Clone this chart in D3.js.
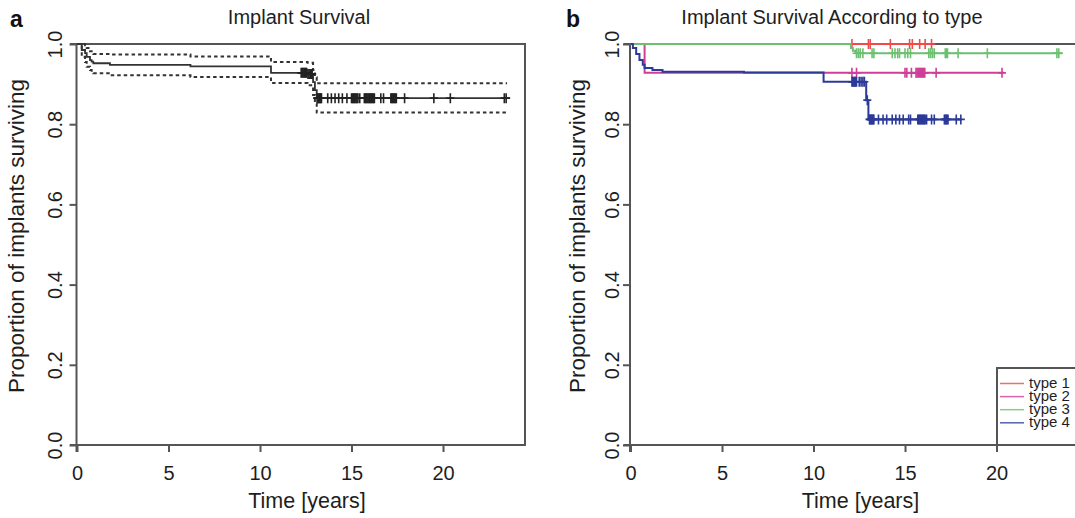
<!DOCTYPE html>
<html>
<head>
<meta charset="utf-8">
<script src="https://cdn.jsdelivr.net/npm/d3@7"></script>
<style>
  body { margin: 0; background: #fff; }
  svg { display: block; font-family: "Liberation Sans", Arial, Helvetica, sans-serif; }
</style>
</head>
<body>
<svg id="chart" width="1075" height="518"></svg>
<script>
// ---- Shared axis settings ----
const yTicks = [0, 0.2, 0.4, 0.6, 0.8, 1.0];
const xTicks = [0, 5, 10, 15, 20];
const xMax = 24.48;

// ---- Panel a: overall Kaplan-Meier estimate with 95% confidence limits ----
const allEventTimes = [0.26, 0.44, 0.53, 0.71, 0.80, 0.89, 1.8, 6.2, 10.6, 12.6, 12.9, 13.0, 13.1];
const allSurvival   = [0.985, 0.977, 0.968, 0.960, 0.956, 0.952, 0.948, 0.944, 0.928, 0.925, 0.905, 0.885, 0.865];
const allUpper      = [1.0, 0.997, 0.990, 0.982, 0.978, 0.975, 0.974, 0.969, 0.955, 0.953, 0.935, 0.917, 0.902];
const allLower      = [0.968, 0.955, 0.943, 0.935, 0.930, 0.927, 0.922, 0.918, 0.903, 0.897, 0.873, 0.851, 0.829];
const allCensorTimes = [12.25, 12.3, 12.35, 12.4, 12.45, 12.5, 12.55, 12.62, 12.68, 12.74, 12.8, 12.85,
  13.12, 13.16, 13.2, 13.24, 13.28, 13.32, 13.36, 13.7, 13.9, 14.1, 14.3, 14.5, 14.75,
  15.0, 15.05, 15.1, 15.15, 15.2, 15.25, 15.3, 15.35, 15.45,
  15.7, 15.75, 15.8, 15.85, 15.9, 15.95, 16.0, 16.05, 16.1, 16.15, 16.2, 16.25,
  16.6, 16.75, 17.15, 17.2, 17.25, 17.3, 17.35, 17.4, 17.45, 17.9, 19.5, 20.4, 23.35, 23.45];
const allEnd = 23.65;
const allBandEnd = 23.5;

// ---- Panel b: Kaplan-Meier estimates by implant type ----
const typeNames  = ["type 1", "type 2", "type 3", "type 4"];
const typeColors = ["#ee4b4b", "#cf3f98", "#6cc070", "#2c3a98"];

const type1EventTimes = [];
const type1Survival   = [];
const type1Censor     = [12.1, 13.0, 13.1, 14.2, 15.25, 15.4, 15.8, 16.1, 16.45];
const type1End        = 16.5;

const type2EventTimes = [0.77];
const type2Survival   = [0.928];
const type2Censor     = [12.1, 12.35, 15.0, 15.1, 15.35, 15.6, 15.66, 15.72, 15.78, 15.84, 15.9,
  15.96, 16.02, 16.08, 16.7, 20.3];
const type2End        = 20.4;

const type3EventTimes = [12.05, 12.15, 12.3];
const type3Survival   = [0.99, 0.983, 0.977];
const type3Censor     = [12.35, 12.45, 12.55, 12.7, 13.2, 13.3, 14.3, 14.45, 14.6, 14.7, 15.0,
  15.15, 15.3, 16.3, 16.4, 16.5, 16.6, 17.2, 17.26, 17.32, 17.9, 19.5, 23.3, 23.4];
const type3End        = 23.6;

const type4EventTimes = [0.13, 0.31, 0.49, 0.67, 0.77, 1.2, 1.75, 6.2, 10.55, 12.88, 13.0];
const type4Survival   = [0.99, 0.975, 0.96, 0.948, 0.94, 0.935, 0.931, 0.929, 0.906, 0.86, 0.812];
const type4Censor     = [12.1, 12.15, 12.2, 12.25, 12.3, 12.35, 12.5, 12.6, 12.7, 12.78, 12.94,
  13.06, 13.1, 13.14, 13.18, 13.22, 13.26, 13.3, 13.55, 13.8, 14.0, 14.3, 14.5, 14.7, 14.9,
  15.2, 15.3, 15.7, 15.75, 15.8, 15.85, 15.9, 15.95, 16.0, 16.05, 16.1, 16.18, 16.45, 16.6,
  17.15, 17.2, 17.25, 17.3, 17.35, 17.8, 18.05];
const type4End        = 18.1;

const typeSeries = [
  { times: type1EventTimes, surv: type1Survival, censor: type1Censor, end: type1End },
  { times: type2EventTimes, surv: type2Survival, censor: type2Censor, end: type2End },
  { times: type3EventTimes, surv: type3Survival, censor: type3Censor, end: type3End },
  { times: type4EventTimes, surv: type4Survival, censor: type4Censor, end: type4End }
];

// ---- Helpers ----
const svg = d3.select("#chart");
const axisColor = "#555";
const textColor = "#1e1e1e";

// Step-function points for a survival curve (starting at 1 at time 0)
function stepPoints(times, values, end) {
  const pts = [[0, 1]];
  times.forEach((t, i) => pts.push([t, values[i]]));
  pts.push([end, values.length ? values[values.length - 1] : 1]);
  return pts;
}
function survivalAt(times, values, t) {
  const i = d3.bisectRight(times, t) - 1;
  return i < 0 ? 1 : values[i];
}

function drawPanel(opts) {
  const x = d3.scaleLinear().domain([0, xMax]).range([opts.x0, opts.x0 + 448]);
  const y = d3.scaleLinear().domain([0, 1]).range([445, 44]);
  const g = svg.append("g");

  // frame: top, right and bottom sides
  const left = opts.x0 - 7, right = x(xMax);
  g.append("path")
    .attr("d", `M${left},${y(1)}H${right}V${y(0)}H${left}`)
    .attr("fill", "none").attr("stroke", axisColor).attr("stroke-width", 2);

  // y axis
  const ya = g.append("g")
    .attr("transform", `translate(${opts.x0 - 0.5},0)`)
    .call(d3.axisLeft(y).tickValues(yTicks).tickFormat(d3.format(".1f")).tickSize(7).tickSizeOuter(0));
  ya.select(".domain").attr("stroke", axisColor).attr("stroke-width", 2)
    .attr("d", `M0,${y(1)}V${y(0) + 7}`);
  ya.selectAll(".tick line").attr("stroke", axisColor).attr("stroke-width", 2);
  ya.selectAll(".tick text")
    .attr("transform", "rotate(-90)")
    .attr("x", 0).attr("y", -opts.yLabelGap).attr("dy", 0)
    .attr("text-anchor", "middle")
    .attr("font-size", 20).attr("fill", textColor);

  // x axis
  const xa = g.append("g")
    .attr("transform", `translate(0,${y(0)})`)
    .call(d3.axisBottom(x).tickValues(xTicks).tickFormat(d3.format("d")).tickSize(7).tickSizeOuter(0));
  xa.select(".domain").remove();
  xa.selectAll(".tick line").attr("stroke", axisColor).attr("stroke-width", 2);
  xa.selectAll(".tick text").attr("y", 35).attr("dy", 0)
    .attr("font-size", 20).attr("fill", textColor);

  // titles
  g.append("text").attr("x", opts.titleX).attr("y", 24)
    .attr("text-anchor", "middle").attr("font-size", 20).attr("fill", textColor)
    .text(opts.title);
  g.append("text").attr("x", opts.tagX).attr("y", 27)
    .attr("font-size", 23).attr("font-weight", "bold").attr("fill", "#111")
    .text(opts.tag);
  g.append("text").attr("x", (x(0) + right) / 2 + 6).attr("y", 508)
    .attr("text-anchor", "middle").attr("font-size", 21.5).attr("fill", textColor)
    .text("Time [years]");
  g.append("text")
    .attr("transform", `translate(${opts.yTitleX},${opts.yTitleY}) rotate(-90)`)
    .attr("text-anchor", "middle").attr("font-size", 22.5).attr("fill", textColor)
    .text("Proportion of implants surviving");

  return { g, x, y };
}

const stepLine = (x, y) => d3.line().x(d => x(d[0])).y(d => y(d[1])).curve(d3.curveStepAfter);

function drawCensor(g, x, y, times, values, censorTimes, color, width) {
  censorTimes.forEach(t => {
    const cx = x(t), cy = y(survivalAt(times, values, t));
    g.append("path")
      .attr("d", `M${cx},${cy - 5}V${cy + 5}M${cx - 4},${cy}H${cx + 4}`)
      .attr("stroke", color).attr("stroke-width", width).attr("fill", "none");
  });
}

// ---- Panel a ----
const pa = drawPanel({ x0: 77, title: "Implant Survival", titleX: 299, tag: "a", tagX: 10,
  yLabelGap: 15, yTitleX: 24, yTitleY: 236 });
const lineA = stepLine(pa.x, pa.y);
[allUpper, allLower].forEach(band => {
  pa.g.append("path")
    .attr("d", lineA(stepPoints(allEventTimes, band, allBandEnd)))
    .attr("fill", "none").attr("stroke", "#333").attr("stroke-width", 2)
    .attr("stroke-dasharray", "3.5,3");
});
pa.g.append("path")
  .attr("d", lineA(stepPoints(allEventTimes, allSurvival, allEnd)))
  .attr("fill", "none").attr("stroke", "#333").attr("stroke-width", 1.8);
drawCensor(pa.g, pa.x, pa.y, allEventTimes, allSurvival, allCensorTimes, "#222", 1.6);

// ---- Panel b ----
const pb = drawPanel({ x0: 630.5, title: "Implant Survival According to type", titleX: 832, tag: "b", tagX: 566,
  yLabelGap: 11, yTitleX: 585, yTitleY: 236 });
const lineB = stepLine(pb.x, pb.y);
typeSeries.forEach((s, i) => {
  pb.g.append("path")
    .attr("d", lineB(stepPoints(s.times, s.surv, s.end)))
    .attr("fill", "none").attr("stroke", typeColors[i]).attr("stroke-width", 2);
  drawCensor(pb.g, pb.x, pb.y, s.times, s.surv, s.censor, typeColors[i], 1.6);
});

// legend in the lower-right corner
const lg = pb.g.append("g");
lg.append("rect").attr("x", 997).attr("y", 368).attr("width", 100).attr("height", 77)
  .attr("fill", "#fff").attr("stroke", axisColor).attr("stroke-width", 2);
typeNames.forEach((name, i) => {
  const ly = 383.5 + i * 13.1;
  lg.append("line").attr("x1", 1000).attr("x2", 1024).attr("y1", ly).attr("y2", ly)
    .attr("stroke", typeColors[i]).attr("stroke-width", 1.5).attr("opacity", 0.8);
  lg.append("text").attr("x", 1029).attr("y", ly + 4.5)
    .attr("font-size", 15).attr("fill", textColor).text(name);
});
</script>
</body>
</html>
